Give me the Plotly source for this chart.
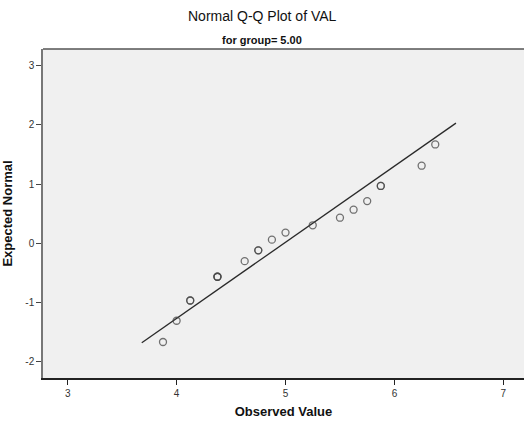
import plotly.graph_objects as go

# Observed values (distinct), how many observations share each value,
# and the expected normal score plotted for each.
observed = [3.875, 4.0, 4.125, 4.375, 4.625, 4.75, 4.875, 5.0,
            5.25, 5.5, 5.625, 5.75, 5.875, 6.25, 6.375]
tie_counts = [1, 1, 2, 3, 1, 2, 1, 1, 1, 1, 1, 1, 2, 1, 1]
expected_normal = [-1.668, -1.309, -0.967, -0.566, -0.303, -0.120, 0.060, 0.180,
                   0.303, 0.431, 0.566, 0.712, 0.967, 1.309, 1.668]

x_ticks = [3, 4, 5, 6, 7]
y_ticks = [-2, -1, 0, 1, 2, 3]

# Reference line: z = (x - mean) / sd, over the padded data range
values = [v for v, c in zip(observed, tie_counts) for _ in range(c)]
n = len(values)
mean = sum(values) / n
sd = (sum((v - mean) ** 2 for v in values) / (n - 1)) ** 0.5
span = max(values) - min(values)
line_x = [min(values) - 0.078 * span, max(values) + 0.076 * span]
line_y = [(x - mean) / sd for x in line_x]

# Repeat tied points so overlapping circles render darker
px = [v for v, c in zip(observed, tie_counts) for _ in range(c)]
py = [z for z, c in zip(expected_normal, tie_counts) for _ in range(c)]

font = "Liberation Sans, Arial, sans-serif"

W, H = 524, 421
ML, MR, MT, MB = 43, 0, 49, 43
page_center = (W / 2 - ML) / (W - ML - MR)  # page centre in plot-paper units

fig = go.Figure()
fig.add_trace(go.Scatter(
    x=line_x, y=line_y, mode="lines",
    line=dict(color="#2a2a2a", width=1.3),
    hoverinfo="skip", showlegend=False,
))
fig.add_trace(go.Scatter(
    x=px, y=py, mode="markers",
    marker=dict(symbol="circle-open", size=7,
                color="rgba(70,70,70,0.75)", line=dict(width=1.3)),
    showlegend=False,
))

fig.update_layout(
    width=W, height=H,
    margin=dict(l=ML, r=MR, t=MT, b=MB),
    paper_bgcolor="white",
    plot_bgcolor="#f0f0f0",
    font=dict(family=font, color="#333333", size=10),
    annotations=[
        dict(text="Normal Q-Q Plot of VAL", x=page_center, xref="paper",
             y=1, yref="paper", yanchor="middle", yshift=33, showarrow=False,
             font=dict(size=14, color="#111111")),
        dict(text="<b>for group= 5.00</b>", x=page_center, xref="paper",
             y=1, yref="paper", yanchor="middle", yshift=9, showarrow=False,
             font=dict(size=11, color="#111111")),
    ],
    xaxis=dict(
        range=[2.773, 7.19], tickvals=x_ticks, ticktext=[str(t) for t in x_ticks],
        showgrid=False, zeroline=False,
        showline=True, linecolor="#222222", linewidth=1.5,
        ticks="outside", ticklen=5, tickcolor="#222222", tickwidth=1,
        title=dict(text="<b>Observed Value</b>", font=dict(size=13, color="#111111"),
                   standoff=9),
    ),
    yaxis=dict(
        range=[-2.276, 3.28], tickvals=y_ticks, ticktext=[str(t) for t in y_ticks],
        showgrid=False, zeroline=False,
        showline=True, linecolor="#777777", linewidth=1.5,
        ticks="outside", ticklen=5, tickcolor="#444444", tickwidth=1,
        title=dict(text="<b>Expected Normal</b>", font=dict(size=13, color="#111111"),
                   standoff=10),
    ),
    shapes=[
        dict(type="line", xref="paper", yref="paper", x0=0, x1=1, y0=1, y1=1,
             line=dict(color="#555555", width=1.5)),
    ],
)

fig.write_html("out.html")
